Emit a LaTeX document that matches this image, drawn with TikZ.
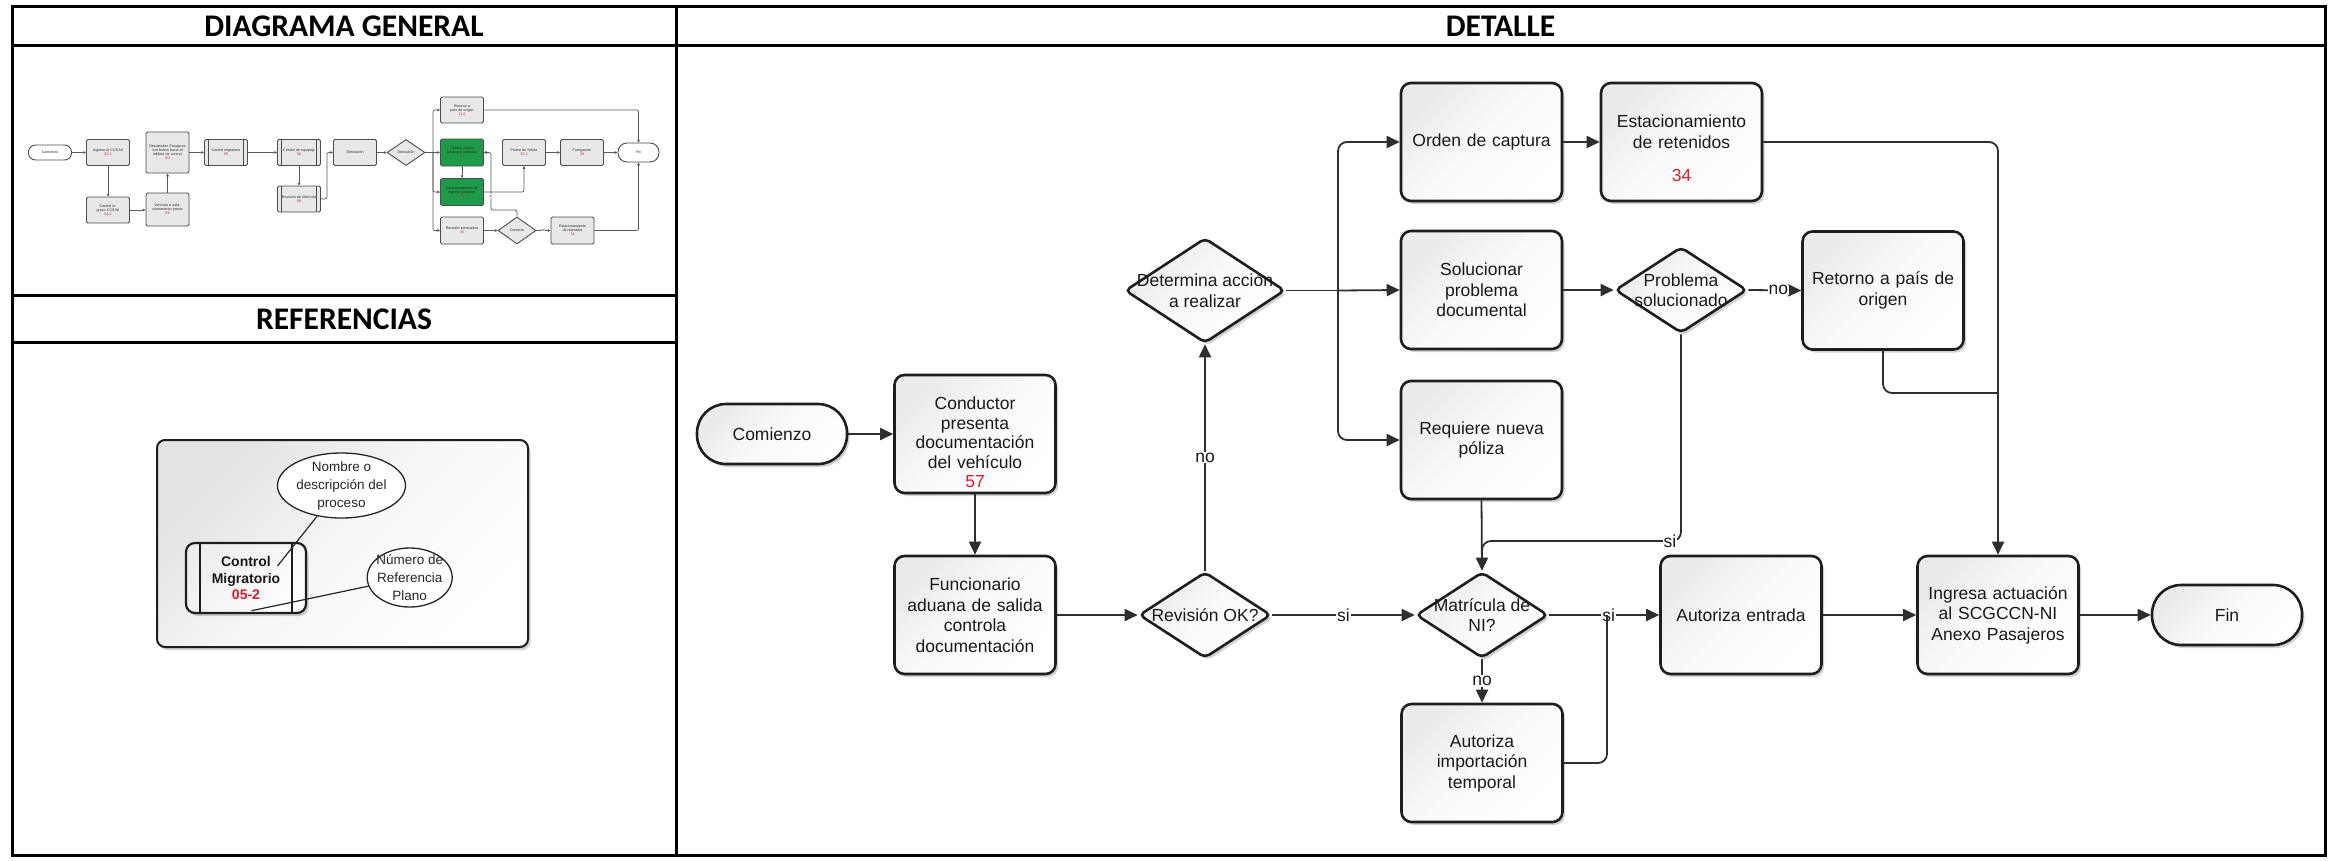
\documentclass[tikz,border=0pt]{standalone}
\usepackage{fontspec}
\setmainfont{Liberation Sans}
\newfontfamily\hdrfont{Carlito}
\usetikzlibrary{arrows.meta,shapes.geometric,shadows,calc}
\definecolor{ln}{HTML}{2E2E2E}
\definecolor{bd}{HTML}{1E1E1E}
\definecolor{rednum}{HTML}{D91E2A}
\definecolor{mgreen}{HTML}{1E9B48}
\newcommand\DTfont{\fontsize{17.5}{20.5}\selectfont}
\newcommand\MTfont{\fontsize{3.6}{4.1}\selectfont}
\newcommand\LTfont{\fontsize{13.5}{18}\selectfont}
\newcommand\HDfont{\hdrfont\bfseries\fontsize{31.5}{36}\selectfont}
\newcommand\rn[1]{{\color{rednum}#1}}
\begin{document}
\begin{tikzpicture}[x=1pt,y=-1pt,
  shd/.style={drop shadow={shadow xshift=2.5pt,shadow yshift=-3pt,opacity=0.18,fill=black}},
  grad/.style={top color=black!8,bottom color=white,middle color=black!2,shading angle=45},
  dbox/.style={rectangle,draw=bd,line width=2.6pt,rounded corners=10pt,minimum width=161pt,minimum height=118pt,inner sep=0pt,align=center,text width=152pt,font=\DTfont,text=black!90,grad,shd},
  dterm/.style={rectangle,draw=bd,line width=2.6pt,rounded corners=29pt,minimum width=150pt,minimum height=60pt,inner sep=0pt,font=\DTfont,text=black!90,grad,shd},
  ddia/.style={diamond,draw=bd,line width=2.6pt,rounded corners=5pt,minimum width=132pt,minimum height=86pt,inner sep=0pt,grad,shd},
  dtxt/.style={align=center,font=\DTfont,text=black!90,inner sep=0pt},
  dconn/.style={draw=ln,line width=1.8pt,-{Triangle[length=13pt,width=12pt]}},
  dline/.style={draw=ln,line width=1.8pt},
  dlbl/.style={font=\DTfont,text=black!90,fill=white,inner sep=1pt},
  tline/.style={line width=3pt,black},
  hdr/.style={font=\HDfont,inner sep=0pt},
  mbox/.style={rectangle,draw=black!70,line width=0.9pt,fill=black!9,rounded corners=1.5pt,minimum width=43pt,minimum height=26pt,inner sep=0pt,align=center,text width=37pt,font=\MTfont,text=black!85},
  mgbox/.style={mbox,fill=mgreen},
  msub/.style={mbox,path picture={\draw[black!70,line width=0.6pt] ([xshift=4pt]path picture bounding box.north west) -- ([xshift=4pt]path picture bounding box.south west) ([xshift=-4pt]path picture bounding box.north east) -- ([xshift=-4pt]path picture bounding box.south east);}},
  mterm/.style={rectangle,draw=black!70,line width=0.9pt,fill=white,rounded corners=7pt,minimum width=43pt,minimum height=15pt,inner sep=0pt,font=\MTfont,text=black!85},
  mdia/.style={diamond,draw=black!70,line width=0.9pt,fill=black!9,minimum width=38pt,minimum height=26pt,inner sep=0pt,font=\MTfont,text=black!85},
  mconn/.style={draw=black!65,line width=0.7pt,-{Triangle[length=2.8pt,width=2.6pt]}},
  mline/.style={draw=black!65,line width=0.7pt},
  mlbl/.style={font=\MTfont,text=black!85,fill=white,inner sep=0.3pt},
  lgbox/.style={rectangle,draw=bd,line width=2pt,rounded corners=8pt,minimum width=371pt,minimum height=207pt,top color=black!11,bottom color=white,middle color=black!3,shading angle=45,shd},
  lsub/.style={rectangle,draw=bd,line width=2.2pt,rounded corners=9pt,minimum width=120pt,minimum height=70pt,inner sep=0pt,align=center,font=\bfseries\fontsize{14}{16.5}\selectfont,text=black!90,top color=black!7,bottom color=white,shading angle=45,shd,
    path picture={\draw[bd,line width=1.6pt] ([xshift=14pt]path picture bounding box.north west) -- ([xshift=14pt]path picture bounding box.south west) ([xshift=-14pt]path picture bounding box.north east) -- ([xshift=-14pt]path picture bounding box.south east);}},
  lell/.style={ellipse,draw=black!85,line width=1.3pt,fill=white,inner sep=0pt},
  ltxt/.style={align=center,font=\LTfont,text=black!85,inner sep=0pt},
  lline/.style={draw=black!85,line width=1.2pt}
]
\useasboundingbox (0,0) rectangle (2333,860);
\fill[white] (0,0) rectangle (2333,860);

% ---------------- table frame ----------------
\draw[tline] (12,6) rectangle (2325,855);
\draw[tline] (12,45) -- (2325,45);
\draw[tline] (676,6) -- (676,855);
\draw[tline] (12,295) -- (676,295);
\draw[tline] (12,342) -- (676,342);
\node[hdr] (hgen) at (344,26) {DIAGRAMA GENERAL};
\node[hdr] (hdet) at (1500.5,26) {DETALLE};
\node[hdr] (href) at (344,319) {REFERENCIAS};

% ---------------- mini general diagram ----------------
\node[mterm] (mCom) at (50,152.5) {Comienzo};
\node[mbox] (mIng) at (108,152.5) {Ingreso al CCS-NI\\\rn{02-2}};
\node[mbox] (mCtl) at (108,210) {Control ingreso CCS-NI\\\rn{04-1}};
\node[mbox,minimum height=41pt] (mDesc) at (167.5,152.5) {Descienden Pasajeros con bultos hacia el edificio de control\\\rn{50}};
\node[mbox,minimum height=33pt] (mVeh) at (167.5,209.5) {Vehículo a estacionamiento previo\\\rn{09}};
\node[msub] (mMig) at (226,152.5) {Control migratorio\\\rn{05}};
\node[msub] (mEqu) at (299,152.5) {Control de equipaje\\\rn{08}};
\node[msub] (mRvv) at (299,199) {Revisión de Vehículo\\\rn{09}};
\node[mbox] (mDer) at (355,152.5) {Derivación};
\node[mdia] (mDd) at (406,152.5) {Derivación};
\node[mbox] (mRet) at (462,110) {Retorno a país de origen\\\rn{11-2}};
\node[mgbox,minimum height=27pt] (mG1) at (462,152.5) {Caseta control aduanero vehicular\\\rn{57}};
\node[mgbox,minimum height=27pt] (mG2) at (462,192) {Estacionamiento de ingreso posterior\\\rn{33}};
\node[mbox,minimum height=27pt] (mRex) at (462,230.5) {Revisión exhaustiva\\\rn{35}};
\node[mdia,minimum height=27pt] (mCor) at (517,230.5) {Correcto};
\node[mbox,minimum height=27pt] (mEst) at (572.5,230.5) {Estacionamiento de retenidos\\\rn{34}};
\node[mbox] (mPlu) at (524,152.5) {Pluma de Salida\\\rn{32-2}};
\node[mbox] (mFum) at (582,152.5) {Fumigación\\\rn{39}};
\node[mterm,minimum width=41pt,minimum height=19pt,rounded corners=9pt] (mFin) at (638.5,152.5) {Fin};

\coordinate (mj1) at (327,199);
\coordinate (mj2) at (433,152.5);
\coordinate (mk1) at (491,210);
\draw[mconn] (mCom.east) -- (mIng.west);
\draw[mconn] (mIng.south) -- (mCtl.north);
\draw[mconn] (mCtl.east) -- (mCtl.east -| mVeh.west);
\draw[mconn] (mVeh.north) -- (mDesc.south);
\draw[mconn] (mDesc.east) -- (mMig.west);
\draw[mconn] (mMig.east) -- (mEqu.west);
\draw[mconn] (mEqu.south) -- (mRvv.north);
\draw[mconn,rounded corners=2pt] (mRvv.east) -- (mj1) |- (mDer.west);
\draw[mconn] (mDer.east) -- (mDd.west);
\draw[mline] (mDd.east) -- (mj2);
\draw[mconn,rounded corners=2pt] (mj2) |- (mRet.west);
\draw[mconn] (mj2) -- (mG1.west);
\draw[mconn,rounded corners=2pt] (mj2) |- (mG2.west);
\draw[mconn,rounded corners=2pt] (mj2) |- (mRex.west);
\draw[mconn] (mG1.south) -- (mG2.north);
\draw[mconn,rounded corners=2pt] (mG2.east) -| (mPlu.south);
\draw[mconn,rounded corners=2pt] (mCor.north) |- (mk1) |- (mG1.east);
\node[mlbl] (msi) at (491,196) {si};
\draw[mconn] (mRex.east) -- (mCor.west);
\draw[mconn] (mCor.east) -- node[mlbl,pos=0.45] (mno) {no} (mEst.west);
\draw[mconn,rounded corners=2pt] (mEst.east) -| (mFin.south);
\draw[mconn,rounded corners=2pt] (mRet.east) -| (mFin.north);
\draw[mconn] (mPlu.east) -- (mFum.west);
\draw[mconn] (mFum.east) -- (mFin.west);

% ---------------- legend ----------------
\node[lgbox] (lg) at (342.5,543.5) {};
\node[lsub] (lcm) at (246,578) {Control\\Migratorio\\\rn{05-2}};
\node[lell,minimum width=128pt,minimum height=65pt] (le1) at (341.5,485.5) {};
\node[ltxt] (le1t) at (le1.center) {Nombre o\\descripción del\\proceso};
\node[lell,minimum width=85pt,minimum height=59pt] (le2) at (409.7,577.5) {};
\node[ltxt] (le2t) at (le2.center) {Número de\\Referencia\\Plano};
\coordinate (lp1) at (277.5,566);
\coordinate (lp2) at (251.5,610.7);
\draw[lline] (le1) -- (lp1);
\draw[lline] (le2) -- (lp2);

% ---------------- detail ----------------
\node[dterm] (com) at (772,434) {Comienzo};
\node[dbox,font=\fontsize{17.5}{19.5}\selectfont,text height=30pt] (con) at (975,434) {Conductor\\presenta\\documentación\\del vehículo\\\rn{57}};
\node[dbox] (fun) at (975,615) {Funcionario\\aduana de salida\\controla\\documentación};
\node[ddia] (rev) at (1205,615) {};
\node[dtxt] (revt) at (rev.center) {Revisión OK?};
\node[ddia,minimum width=160pt,minimum height=105pt] (det) at (1205,290.5) {};
\node[dtxt] (dett) at (det.center) {Determina acción\\a realizar};
\node[dbox] (ord) at (1481.5,142) {Orden de captura};
\node[dbox,text height=25pt] (est) at (1681.5,142) {Estacionamiento\\de retenidos\\[12.5pt]\rn{34}};
\node[dbox] (sol) at (1481.5,290) {Solucionar\\problema\\documental};
\node[ddia] (prob) at (1681,290) {};
\node[dtxt] (probt) at (prob.center) {Problema\\solucionado};
\node[dbox] (ret) at (1883,290.5) {Retorno a país de\\origen};
\node[dbox] (req) at (1481.5,440) {Requiere nueva\\póliza};
\node[ddia] (mat) at (1482,615) {};
\node[dtxt] (matt) at (mat.center) {Matrícula de\\NI?};
\node[dbox] (imp) at (1482,763) {Autoriza\\importación\\temporal};
\node[dbox] (aut) at (1741,615) {Autoriza entrada};
\node[dbox] (ing) at (1998,615) {Ingresa actuación\\al SCGCCN-NI\\Anexo Pasajeros};
\node[dterm] (fin) at (2227,615) {Fin};

\coordinate (jn) at (1338,290.5);
\coordinate (mgA) at (1482,541);
\coordinate (mi) at (1607,615);
\coordinate (mr) at (1998,393);

\draw[dconn] (com.east) -- (con.west);
\draw[dconn] (con.south) -- (fun.north);
\draw[dconn] (fun.east) -- (rev.west);
\draw[dconn] (rev.north) -- node[dlbl,pos=0.5] (lno1) {no} (det.south);
\draw[dconn] (rev.east) -- node[dlbl,pos=0.5] (lsi1) {si} (mat.west);
\draw[dline] (det.east) -- (jn);
\draw[dconn,rounded corners=9pt] (jn) |- (ord.west);
\draw[dconn] (jn) -- (sol.west);
\draw[dconn,rounded corners=9pt] (jn) |- (req.west);
\draw[dconn] (ord.east) -- (est.west);
\draw[dconn] (sol.east) -- (prob.west);
\draw[dconn] (prob.east) -- node[dlbl,pos=0.57,inner sep=0.3pt] (lno2) {no} (ret.west);
\draw[dconn] (req.south) -- (mat.north);
\draw[dline,rounded corners=9pt] (prob.south) |- (mgA) -- ($(mgA)+(0,12)$);
\node[dlbl] (lsi2) at (1670,541) {si};
\draw[dconn] (mat.south) -- node[dlbl,pos=0.5] (lno3) {no} (imp.north);
\draw[dconn] (mat.east) -- node[dlbl,pos=0.54] (lsi3) {si} (aut.west);
\draw[dline,rounded corners=9pt] (imp.east) -| (mi);
\draw[dconn] (aut.east) -- (ing.west);
\draw[dconn,rounded corners=9pt] (est.east) -| (ing.north);
\draw[dline,rounded corners=9pt] (ret.south) |- (mr);
\draw[dconn] (ing.east) -- (fin.west);
\end{tikzpicture}
\end{document}
